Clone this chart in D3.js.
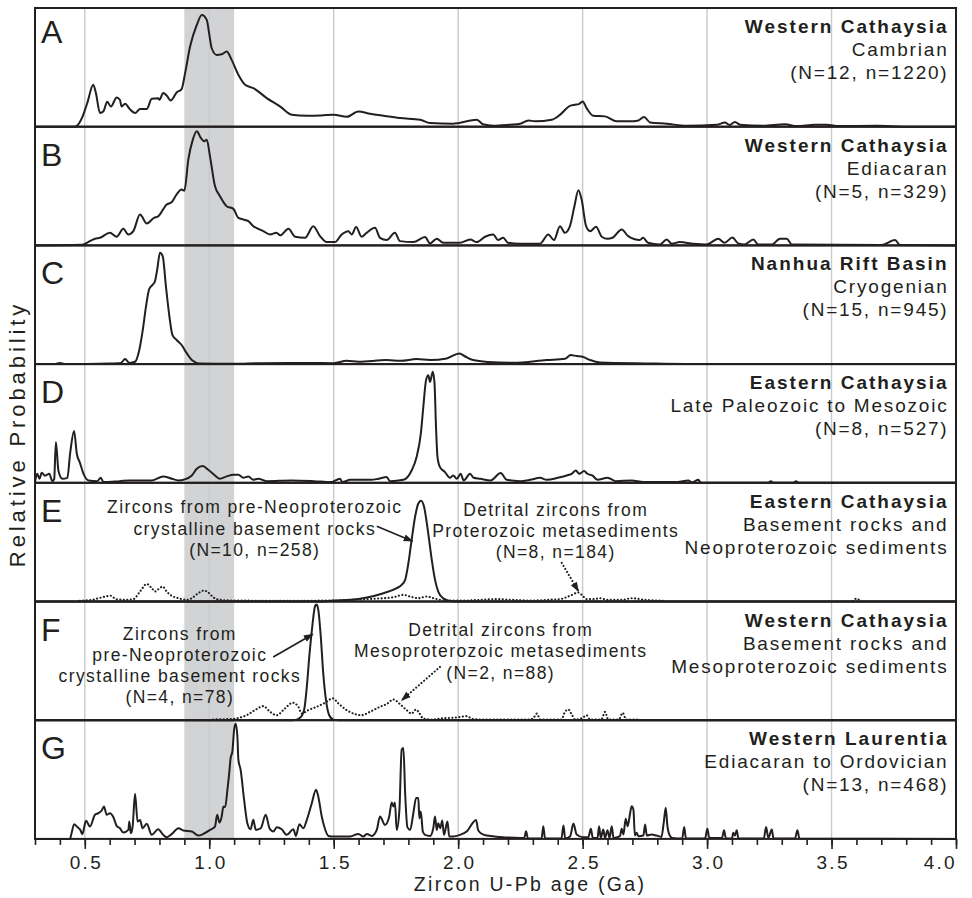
<!DOCTYPE html>
<html>
<head>
<meta charset="utf-8">
<script src="https://cdn.jsdelivr.net/npm/d3@7"></script>
<style>
  body { margin: 0; background: #fff; }
  svg { display: block; font-family: "Liberation Sans", Arial, sans-serif; }
  text { fill: #231f20; }
</style>
</head>
<body>
<div class="chart"></div>
<script>
// age (Ga), relative probability (fraction of panel height)
const panelA = [[0.30,0],[0.46,0],[0.47,0.01],[0.49,0.08],[0.51,0.2],[0.534,0.353],[0.545,0.28],[0.561,0.115],[0.575,0.13],[0.59,0.21],[0.605,0.17],[0.628,0.246],[0.641,0.227],[0.648,0.17],[0.662,0.193],[0.68,0.15],[0.702,0.115],[0.722,0.149],[0.749,0.149],[0.769,0.235],[0.795,0.24],[0.8,0.228],[0.815,0.283],[0.83,0.26],[0.845,0.221],[0.869,0.288],[0.889,0.317],[0.903,0.451],[0.923,0.675],[0.95,0.857],[0.97,0.941],[0.99,0.9],[1.0,0.78],[1.01,0.661],[1.03,0.605],[1.05,0.61],[1.07,0.633],[1.09,0.563],[1.117,0.437],[1.144,0.353],[1.177,0.325],[1.231,0.241],[1.284,0.171],[1.331,0.101],[1.392,0.092],[1.45,0.095],[1.499,0.101],[1.553,0.084],[1.599,0.129],[1.646,0.109],[1.7,0.092],[1.766,0.073],[1.847,0.059],[1.887,0.031],[1.98,0.025],[2.0,0.03],[2.075,0.059],[2.1,0.02],[2.141,0.008],[2.208,0.017],[2.249,0.025],[2.282,0.053],[2.309,0.045],[2.376,0.059],[2.409,0.1],[2.449,0.176],[2.469,0.185],[2.485,0.19],[2.5,0.213],[2.516,0.157],[2.543,0.092],[2.59,0.087],[2.637,0.045],[2.69,0.045],[2.72,0.05],[2.747,0.081],[2.771,0.036],[2.838,0.025],[2.918,0.008],[3.04,0.017],[3.072,0.036],[3.09,0.015],[3.112,0.04],[3.132,0.017],[3.225,0.008],[3.313,0.02],[3.36,0.005],[3.434,0.017],[3.48,0.017],[3.53,0.005],[3.68,0.008],[3.8,0],[4.0,0]];

const panelB = [[0.3,0],[0.49,0.005],[0.508,0.022],[0.541,0.056],[0.561,0.064],[0.601,0.106],[0.628,0.073],[0.655,0.14],[0.675,0.092],[0.695,0.12],[0.722,0.26],[0.749,0.185],[0.778,0.232],[0.795,0.245],[0.829,0.345],[0.849,0.364],[0.869,0.429],[0.889,0.47],[0.9,0.46],[0.916,0.723],[0.934,0.891],[0.95,0.961],[0.966,0.905],[0.98,0.877],[0.99,0.891],[1.003,0.75],[1.023,0.5],[1.043,0.415],[1.07,0.33],[1.097,0.308],[1.117,0.232],[1.137,0.218],[1.157,0.204],[1.177,0.162],[1.197,0.14],[1.217,0.12],[1.244,0.092],[1.27,0.106],[1.285,0.085],[1.318,0.14],[1.345,0.073],[1.385,0.064],[1.418,0.162],[1.445,0.078],[1.472,0.028],[1.505,0.028],[1.532,0.092],[1.559,0.12],[1.572,0.092],[1.59,0.154],[1.612,0.073],[1.632,0.106],[1.666,0.148],[1.686,0.064],[1.713,0.045],[1.746,0.106],[1.766,0.036],[1.82,0.028],[1.867,0.07],[1.887,0.017],[1.914,0.056],[1.94,0.022],[2.007,0.022],[2.048,0.05],[2.075,0.028],[2.108,0.073],[2.141,0.092],[2.16,0.045],[2.181,0.064],[2.2,0.022],[2.25,0.014],[2.329,0.014],[2.362,0.092],[2.385,0.045],[2.409,0.162],[2.429,0.106],[2.449,0.162],[2.467,0.33],[2.483,0.465],[2.496,0.387],[2.514,0.162],[2.53,0.12],[2.554,0.157],[2.577,0.073],[2.6,0.056],[2.62,0.064],[2.657,0.134],[2.683,0.078],[2.73,0.045],[2.743,0.064],[2.763,0.022],[2.81,0.008],[2.838,0.05],[2.858,0.014],[2.89,0.028],[2.944,0.014],[2.998,0.008],[3.045,0.056],[3.07,0.022],[3.102,0.067],[3.125,0.017],[3.15,0.008],[3.186,0.05],[3.205,0.008],[3.26,0.008],[3.293,0.056],[3.32,0.056],[3.34,0.008],[3.7,0.003],[3.755,0.045],[3.775,0.003],[4.0,0]];

const panelC = [[0.3,0],[0.38,0],[0.4,0.01],[0.42,0],[0.6,0.005],[0.645,0.01],[0.662,0.042],[0.68,0.01],[0.702,0.02],[0.719,0.119],[0.733,0.288],[0.746,0.486],[0.759,0.633],[0.773,0.669],[0.782,0.698],[0.791,0.797],[0.802,0.938],[0.813,0.91],[0.826,0.655],[0.84,0.401],[0.852,0.246],[0.869,0.203],[0.889,0.161],[0.91,0.09],[0.93,0.034],[0.96,0.006],[1.1,0.003],[1.2,0.008],[1.4,0.01],[1.5,0.008],[1.552,0.028],[1.6,0.02],[1.713,0.034],[1.77,0.028],[1.833,0.042],[1.887,0.034],[1.954,0.048],[2.005,0.09],[2.03,0.062],[2.06,0.034],[2.12,0.018],[2.222,0.011],[2.356,0.034],[2.429,0.045],[2.452,0.076],[2.476,0.068],[2.5,0.062],[2.53,0.034],[2.57,0.014],[2.76,0.006],[3.0,0],[4.0,0]];

const panelD = [[0.3,0.005],[0.309,0.076],[0.318,0.035],[0.327,0.085],[0.34,0.06],[0.357,0.076],[0.37,0.014],[0.377,0.03],[0.384,0.344],[0.394,0.104],[0.41,0.034],[0.43,0.042],[0.441,0.245],[0.457,0.437],[0.468,0.245],[0.481,0.166],[0.495,0.076],[0.515,0.02],[0.55,0.014],[0.564,0.042],[0.575,0.006],[0.64,0.014],[0.68,0.02],[0.77,0.02],[0.815,0.054],[0.85,0.034],[0.876,0.02],[0.9,0.028],[0.93,0.062],[0.95,0.118],[0.974,0.141],[0.996,0.11],[1.023,0.062],[1.043,0.034],[1.07,0.054],[1.097,0.068],[1.117,0.068],[1.137,0.042],[1.157,0.054],[1.177,0.025],[1.197,0.034],[1.23,0.014],[1.33,0.02],[1.42,0.014],[1.49,0.006],[1.525,0.034],[1.535,0.006],[1.566,0.025],[1.65,0.025],[1.68,0.034],[1.713,0.048],[1.726,0.014],[1.78,0.025],[1.813,0.104],[1.833,0.217],[1.85,0.414],[1.86,0.639],[1.871,0.865],[1.88,0.907],[1.887,0.85],[1.898,0.935],[1.905,0.837],[1.911,0.47],[1.917,0.217],[1.927,0.132],[1.947,0.09],[1.967,0.042],[1.98,0.062],[1.995,0.034],[2.01,0.076],[2.022,0.02],[2.048,0.076],[2.062,0.042],[2.088,0.034],[2.13,0.02],[2.171,0.082],[2.195,0.025],[2.249,0.014],[2.289,0.025],[2.329,0.042],[2.356,0.025],[2.4,0.042],[2.436,0.062],[2.456,0.076],[2.473,0.104],[2.486,0.076],[2.506,0.099],[2.519,0.076],[2.539,0.062],[2.56,0.025],[2.6,0.042],[2.633,0.014],[2.697,0.02],[2.744,0.006],[2.88,0.006],[2.925,0.02],[2.94,0.003],[2.965,0.025],[2.975,0],[3.245,0],[3.256,0.014],[3.267,0],[3.347,0],[3.357,0.014],[3.367,0],[4.0,0]];

const panelEbase = [[0.3,0],[1.45,0],[1.499,0.008],[1.566,0.014],[1.633,0.034],[1.7,0.07],[1.753,0.112],[1.773,0.14],[1.787,0.182],[1.8,0.322],[1.813,0.518],[1.827,0.714],[1.84,0.826],[1.851,0.849],[1.863,0.798],[1.878,0.602],[1.894,0.35],[1.907,0.182],[1.92,0.084],[1.94,0.028],[1.967,0.005],[2.0,0],[4.0,0]];

const panelEdet = [[0.48,0.005],[0.5,0.008],[0.53,0.014],[0.56,0.03],[0.605,0.048],[0.625,0.02],[0.66,0.014],[0.695,0.02],[0.722,0.084],[0.749,0.148],[0.769,0.112],[0.782,0.084],[0.795,0.103],[0.813,0.126],[0.829,0.084],[0.849,0.048],[0.876,0.028],[0.909,0.014],[0.93,0.028],[0.952,0.064],[0.979,0.092],[0.996,0.076],[1.016,0.036],[1.043,0.014],[1.1,0.008],[1.3,0.006],[1.5,0.008],[1.633,0.02],[1.74,0.036],[1.78,0.056],[1.806,0.042],[1.84,0.028],[1.874,0.042],[1.9,0.028],[1.95,0.008],[2.03,0.008],[2.088,0.014],[2.155,0.02],[2.22,0.014],[2.3,0.008],[2.356,0.014],[2.41,0.02],[2.449,0.048],[2.483,0.076],[2.5,0.048],[2.516,0.02],[2.545,0.02],[2.57,0.028],[2.6,0.014],[2.66,0.014],[2.697,0.028],[2.75,0.014],[2.824,0.006],[3.2,null],[3.585,0.003],[3.601,0.025],[3.615,0.003]];

const panelFbase = [[0.3,0],[1.338,0],[1.366,0.023],[1.381,0.085],[1.392,0.282],[1.402,0.537],[1.414,0.791],[1.425,0.96],[1.431,0.975],[1.438,0.932],[1.448,0.706],[1.458,0.395],[1.469,0.169],[1.482,0.042],[1.499,0.005],[1.52,0],[4.0,0]];

const panelFdet = [[1.016,0.006],[1.097,0.012],[1.15,0.042],[1.184,0.085],[1.217,0.119],[1.244,0.071],[1.271,0.042],[1.304,0.099],[1.335,0.147],[1.358,0.113],[1.371,0.056],[1.398,0.085],[1.432,0.113],[1.465,0.147],[1.496,0.184],[1.519,0.141],[1.552,0.085],[1.586,0.051],[1.612,0.042],[1.646,0.071],[1.686,0.113],[1.713,0.136],[1.74,0.175],[1.766,0.136],[1.793,0.085],[1.813,0.056],[1.831,0.09],[1.845,0.056],[1.86,0.014],[1.9,0.006],[1.927,0.014],[1.994,0.023],[2.034,0.034],[2.06,0.01],[2.1,0.006],[2.289,0.006],[2.303,0.02],[2.316,0.056],[2.33,0.006],[2.415,0.006],[2.429,0.07],[2.443,0.09],[2.456,0.05],[2.47,0.006],[2.5,0.02],[2.516,0.042],[2.53,0.006],[2.575,0.006],[2.59,0.07],[2.603,0.006],[2.645,0.006],[2.661,0.062],[2.675,0.006],[2.73,0.006]];

const panelG = [[0.3,0],[0.44,0],[0.447,0.048],[0.457,0.124],[0.47,0.1],[0.482,0.076],[0.49,0.04],[0.505,0.152],[0.521,0.104],[0.541,0.203],[0.555,0.217],[0.568,0.239],[0.577,0.273],[0.588,0.203],[0.601,0.217],[0.615,0.183],[0.628,0.11],[0.641,0.09],[0.655,0.054],[0.675,0.076],[0.679,0.146],[0.685,0.048],[0.692,0.1],[0.702,0.38],[0.712,0.146],[0.722,0.16],[0.732,0.09],[0.749,0.127],[0.769,0.034],[0.795,0.082],[0.815,0.034],[0.829,0.014],[0.85,0.042],[0.876,0.09],[0.896,0.07],[0.93,0.062],[0.956,0.028],[0.976,0.042],[1.003,0.076],[1.023,0.104],[1.032,0.203],[1.041,0.138],[1.05,0.189],[1.057,0.273],[1.064,0.268],[1.073,0.414],[1.079,0.527],[1.086,0.682],[1.093,0.738],[1.1,0.921],[1.106,0.972],[1.113,0.865],[1.117,0.668],[1.126,0.583],[1.14,0.33],[1.153,0.132],[1.166,0.082],[1.177,0.161],[1.187,0.076],[1.207,0.09],[1.227,0.203],[1.242,0.09],[1.258,0.062],[1.271,0.099],[1.291,0.082],[1.311,0.034],[1.338,0.082],[1.348,0.025],[1.362,0.124],[1.378,0.09],[1.392,0.161],[1.412,0.301],[1.429,0.414],[1.438,0.358],[1.452,0.189],[1.462,0.104],[1.479,0.025],[1.5,0.02],[1.566,0.02],[1.599,0.042],[1.619,0.02],[1.633,0.042],[1.653,0.025],[1.673,0.076],[1.686,0.189],[1.706,0.118],[1.723,0.189],[1.733,0.307],[1.74,0.273],[1.746,0.307],[1.753,0.076],[1.764,0.245],[1.773,0.752],[1.78,0.766],[1.787,0.386],[1.796,0.099],[1.807,0.076],[1.82,0.217],[1.831,0.344],[1.84,0.344],[1.844,0.175],[1.85,0.231],[1.858,0.062],[1.867,0.034],[1.887,0.025],[1.9,0.09],[1.907,0.189],[1.914,0.076],[1.92,0.132],[1.928,0.09],[1.936,0.155],[1.943,0.034],[1.957,0.146],[1.964,0.02],[1.98,0.02],[2.007,0.034],[2.034,0.062],[2.072,0.16],[2.08,0.076],[2.093,0.045],[2.115,0.028],[2.168,0.017],[2.249,0.008],[2.265,0.008],[2.273,0.065],[2.28,0.003],[2.335,0.003],[2.342,0.107],[2.349,0.003],[2.415,0.003],[2.423,0.113],[2.43,0.003],[2.45,0.023],[2.463,0.13],[2.476,0.037],[2.503,0.014],[2.523,0.014],[2.533,0.085],[2.541,0.008],[2.56,0.008],[2.566,0.107],[2.573,0.008],[2.583,0.079],[2.59,0.008],[2.6,0.073],[2.608,0.008],[2.617,0.107],[2.624,0.008],[2.65,0.023],[2.657,0.085],[2.664,0.037],[2.673,0.169],[2.681,0.107],[2.69,0.206],[2.697,0.276],[2.704,0.248],[2.71,0.028],[2.717,0.051],[2.724,0.023],[2.744,0.028],[2.751,0.121],[2.758,0.028],[2.777,0.037],[2.797,0.028],[2.817,0.017],[2.826,0.14],[2.834,0.262],[2.84,0.121],[2.85,0.028],[2.86,0.008],[2.9,0.003],[2.908,0.101],[2.915,0.003],[2.992,0.003],[3.001,0.085],[3.009,0.008],[3.06,0.008],[3.068,0.073],[3.076,0.003],[3.1,0.003],[3.105,0.051],[3.112,0.028],[3.119,0.073],[3.126,0.003],[3.228,0.003],[3.237,0.101],[3.246,0.008],[3.26,0.079],[3.267,0.003],[3.353,0.003],[3.363,0.073],[3.371,0.003],[4.0,0]];

const letters = ["A","B","C","D","E","F","G"];
const titles = ["Western Cathaysia","Western Cathaysia","Nanhua Rift Basin","Eastern Cathaysia","Eastern Cathaysia","Western Cathaysia","Western Laurentia"];
const subtitles = ["Cambrian","Ediacaran","Cryogenian","Late Paleozoic to Mesozoic","Basement rocks and","Basement rocks and","Ediacaran to Ordovician"];
const notes = ["(N=12, n=1220)","(N=5, n=329)","(N=15, n=945)","(N=8, n=527)","Neoproterozoic sediments","Mesoproterozoic sediments","(N=13, n=468)"];

const solidSeries = [panelA, panelB, panelC, panelD, panelEbase, panelFbase, panelG];
const dottedSeries = [null, null, null, null, panelEdet, panelFdet, null];

const majorTicks = [0.5,1.0,1.5,2.0,2.5,3.0,3.5,4.0];
const gridTicks = [0.5,1.0,1.5,2.0,2.5,3.0,3.5];
const minorTicks = d3.range(3, 41).map(d => d / 10);
const band = [0.9, 1.1];

const chartW = 972, chartH = 898;
const plotL = 35, plotR = 956, plotT = 8, panelH = 118.7;
const ink = "#231f20";

const svg = d3.select(".chart").append("svg")
    .attr("width", chartW)
    .attr("height", chartH);

const defs = svg.append("defs");
defs.append("marker")
    .attr("id", "head")
    .attr("viewBox", "0 0 10 10")
    .attr("refX", 9).attr("refY", 5)
    .attr("markerWidth", 10).attr("markerHeight", 10)
    .attr("markerUnits", "userSpaceOnUse")
    .attr("orient", "auto")
    .append("path")
    .attr("d", "M0,1.5 L10,5 L0,8.5 Z")
    .attr("fill", ink);

const x = d3.scaleLinear().domain([0.3, 4.0]).range([plotL, plotR]);
const plotB = plotT + panelH * 7;

// grey band and grid lines behind everything
svg.append("rect")
    .attr("x", x(band[0]))
    .attr("y", plotT)
    .attr("width", x(band[1]) - x(band[0]))
    .attr("height", plotB - plotT)
    .attr("fill", "#d1d3d4");

svg.append("g").selectAll("line")
    .data(gridTicks)
    .enter().append("line")
    .attr("x1", d => x(d)).attr("x2", d => x(d))
    .attr("y1", plotT).attr("y2", plotB)
    .attr("stroke", "#c9cacc")
    .attr("stroke-width", 1.4);

solidSeries.forEach(function(series, i) {
    const y0 = plotT + panelH * i;
    const y = d3.scaleLinear().domain([0, 1]).range([y0 + panelH, y0]);
    const g = svg.append("g");

    const line = d3.line()
        .defined(d => d[1] != null)
        .x(d => x(d[0]))
        .y(d => y(d[1]))
        .curve(d3.curveMonotoneX);

    if (dottedSeries[i]) {
        g.append("path")
            .attr("d", line(dottedSeries[i]))
            .attr("fill", "none")
            .attr("stroke", ink)
            .attr("stroke-width", 2.1)
            .attr("stroke-linecap", "round")
            .attr("stroke-dasharray", "0.1,3.4");
    }

    g.append("path")
        .attr("d", line(series))
        .attr("fill", "none")
        .attr("stroke", ink)
        .attr("stroke-width", 2)
        .attr("stroke-linejoin", "round");

    g.append("rect")
        .attr("x", plotL).attr("y", y0)
        .attr("width", plotR - plotL).attr("height", panelH)
        .attr("fill", "none")
        .attr("stroke", ink)
        .attr("stroke-width", 2);

    g.append("text")
        .attr("x", 41)
        .attr("y", y0 + (i === 0 ? 35 : 39))
        .attr("font-size", 32)
        .text(letters[i]);

    const tx = 948.5;
    g.append("text")
        .attr("x", tx).attr("y", y0 + 25)
        .attr("text-anchor", "end")
        .attr("font-size", 19).attr("font-weight", "bold")
        .attr("letter-spacing", 2)
        .text(titles[i]);
    g.append("text")
        .attr("x", tx).attr("y", y0 + 48)
        .attr("text-anchor", "end")
        .attr("font-size", 19)
        .attr("letter-spacing", 1.8)
        .text(subtitles[i]);
    g.append("text")
        .attr("x", tx).attr("y", y0 + 71)
        .attr("text-anchor", "end")
        .attr("font-size", 19)
        .attr("letter-spacing", 1.8)
        .text(notes[i]);
});

// annotations in panels E and F, placed in age / relative-probability units
function annotate(panel, ageX, lines, offsets) {
    const y0 = plotT + panelH * panel;
    const t = svg.append("text")
        .attr("text-anchor", "middle")
        .attr("font-size", 17.5)
        .attr("letter-spacing", 1.4);
    lines.forEach(function(s, k) {
        t.append("tspan").attr("x", x(ageX) + 0.7).attr("y", y0 + offsets[k]).text(s);
    });
}
function arrow(panel, from, to, dotted) {
    const y0 = plotT + panelH * panel;
    const y = d3.scaleLinear().domain([0, 1]).range([y0 + panelH, y0]);
    svg.append("line")
        .attr("x1", x(from[0])).attr("y1", y(from[1]))
        .attr("x2", x(to[0])).attr("y2", y(to[1]))
        .attr("stroke", ink)
        .attr("stroke-width", dotted ? 2.1 : 1.7)
        .attr("stroke-linecap", dotted ? "round" : "butt")
        .attr("stroke-dasharray", dotted ? "0.1,3.4" : null)
        .attr("marker-end", "url(#head)");
}

annotate(4, 1.18, ["Zircons from pre-Neoproterozoic", "crystalline basement rocks", "(N=10, n=258)"], [30, 52, 73]);
annotate(4, 2.389, ["Detrital zircons from", "Proterozoic metasediments", "(N=8, n=184)"], [33, 54, 75]);
annotate(5, 0.879, ["Zircons from", "pre-Neoproterozoic", "crystalline basement rocks", "(N=4, n=78)"], [38, 59, 80, 101]);
annotate(5, 2.168, ["Detrital zircons from", "Mesoproterozoic metasediments", "(N=2, n=88)"], [34, 55, 77]);

arrow(4, [1.673, 0.634], [1.817, 0.508], false);
arrow(4, [2.416, 0.326], [2.483, 0.087], true);
arrow(5, [1.257, 0.533], [1.416, 0.725], false);
arrow(5, [1.927, 0.449], [1.773, 0.168], true);

// x axis
const minorAxis = d3.axisBottom(x).tickValues(minorTicks).tickSize(6).tickFormat("");
const majorAxis = d3.axisBottom(x).tickValues(majorTicks).tickSize(10).tickPadding(7).tickFormat(d3.format(".1f"));

const ax1 = svg.append("g").attr("transform", "translate(0," + plotB + ")").call(minorAxis);
const ax2 = svg.append("g").attr("transform", "translate(0," + plotB + ")").call(majorAxis);
[ax1, ax2].forEach(a => {
    a.select(".domain").remove();
    a.selectAll("line").attr("stroke", ink).attr("stroke-width", 1.6);
});
ax2.selectAll("text")
    .attr("font-size", 19)
    .attr("letter-spacing", 2.3)
    .attr("dx", 1.1)
    .attr("fill", ink)
    .style("font-family", "'Liberation Sans', Arial, sans-serif");
// last label sits flush with the right frame, as in the original
ax2.selectAll(".tick").filter(d => d === 4.0).select("text")
    .attr("text-anchor", "end")
    .attr("dx", 0.5);

svg.append("text")
    .attr("x", 530)
    .attr("y", 891)
    .attr("text-anchor", "middle")
    .attr("font-size", 19.5)
    .attr("letter-spacing", 2.3)
    .text("Zircon U-Pb age (Ga)");

svg.append("text")
    .attr("transform", "translate(25,434) rotate(-90)")
    .attr("text-anchor", "middle")
    .attr("font-size", 22)
    .attr("letter-spacing", 3.9)
    .text("Relative Probability");
</script>
</body>
</html>
